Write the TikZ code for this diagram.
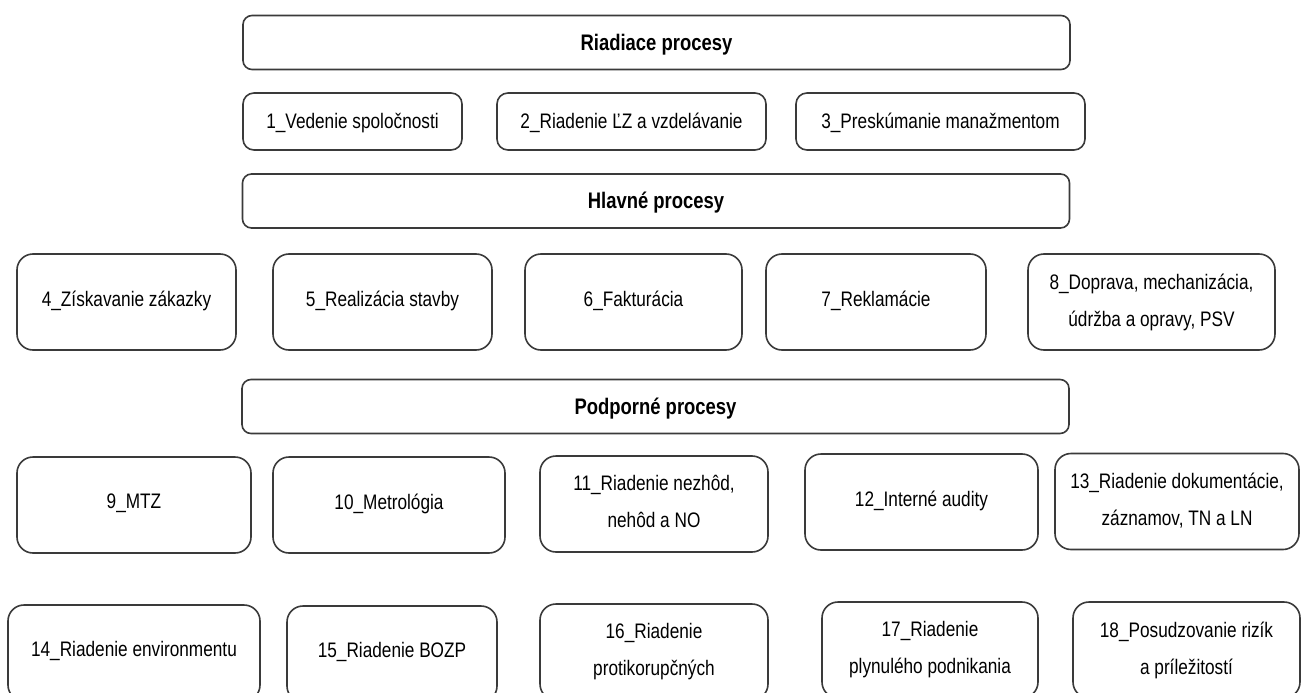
\documentclass[tikz,border=0pt]{standalone}
\usepackage{fontspec}
\setmainfont{Liberation Sans}[FakeStretch=0.82]
\usetikzlibrary{positioning}

\definecolor{boxline}{HTML}{3A3A3A}

\begin{document}
\begin{tikzpicture}[
    x=1pt, y=-1pt,
    % Node styles
    grouphead/.style={
        rectangle,
        rounded corners=9pt,
        draw=boxline,
        line width=1.6pt,
        minimum width=827pt,
        minimum height=54pt,
        inner sep=0pt,
        execute at begin node=\vphantom{Áy},
        font=\fontsize{22.5pt}{37pt}\selectfont\bfseries
    },
    smallproc/.style={
        rectangle,
        rounded corners=11pt,
        draw=boxline,
        line width=1.6pt,
        minimum height=57pt,
        inner sep=0pt,
        align=center,
        execute at begin node=\vphantom{Áy},
        font=\fontsize{21pt}{37pt}\selectfont
    },
    proc/.style={
        rectangle,
        rounded corners=16pt,
        draw=boxline,
        line width=1.6pt,
        minimum height=96pt,
        inner sep=0pt,
        align=center,
        execute at begin node=\vphantom{Áy},
        font=\fontsize{21pt}{37pt}\selectfont
    }
]

\clip (0,0) rectangle (1304,693);

% --- Riadiace procesy ---
\node[grouphead] (riadiace) at (656.5,42.5) {Riadiace procesy};

\node[smallproc, minimum width=219pt] (vedenie) at (352.5,121.5) {1\_Vedenie spoločnosti};
\node[smallproc, minimum width=269pt] (riadlz) at (631.5,121.5) {2\_Riadenie ĽZ a vzdelávanie};
\node[smallproc, minimum width=289pt] (preskum) at (940.5,121.5) {3\_Preskúmanie manažmentom};

% --- Hlavne procesy ---
\node[grouphead] (hlavne) at (656,201) {Hlavné procesy};

\node[proc, minimum width=219pt] (ziskav) at (126.5,302) {4\_Získavanie zákazky\\[-34pt]~};
\node[proc, minimum width=219pt] (realiz) at (382.5,302) {5\_Realizácia stavby\\[-34pt]~};
\node[proc, minimum width=217pt] (faktur) at (633.5,302) {6\_Fakturácia\\[-34pt]~};
\node[proc, minimum width=220pt] (reklam) at (876,302) {7\_Reklamácie\\[-34pt]~};
\node[proc, minimum width=247pt] (doprava) at (1151.5,302) {8\_Doprava, mechanizácia,\\údržba a opravy, PSV};

% --- Podporne procesy ---
\node[grouphead] (podporne) at (655.5,406.5) {Podporné procesy};

\node[proc, minimum width=234pt] (mtz) at (134,505) {9\_MTZ\\[-34pt]~};
\node[proc, minimum width=232pt] (metrol) at (389,505) {10\_Metrológia\\[-34pt]~};
\node[proc, minimum width=228pt] (nezhod) at (654,504) {11\_Riadenie nezhôd,\\nehôd a NO};
\node[proc, minimum width=233pt] (audity) at (921.5,502) {12\_Interné audity\\[-34pt]~};
\node[proc, minimum width=244pt] (dokum) at (1177,501.5) {13\_Riadenie dokumentácie,\\záznamov, TN a LN};

\node[proc, minimum width=252pt] (envir) at (134,653) {14\_Riadenie environmentu\\[-34pt]~};
\node[proc, minimum width=210pt] (bozp) at (392,654) {15\_Riadenie BOZP\\[-34pt]~};
\node[proc, minimum width=228pt] (korup) at (654,652) {16\_Riadenie\\protikorupčných};
\node[proc, minimum width=216pt] (plynul) at (930,650) {17\_Riadenie\\plynulého podnikania};
\node[proc, minimum width=227pt] (rizika) at (1186.5,650) {18\_Posudzovanie rizík\\a príležitostí};

\end{tikzpicture}
\end{document}
